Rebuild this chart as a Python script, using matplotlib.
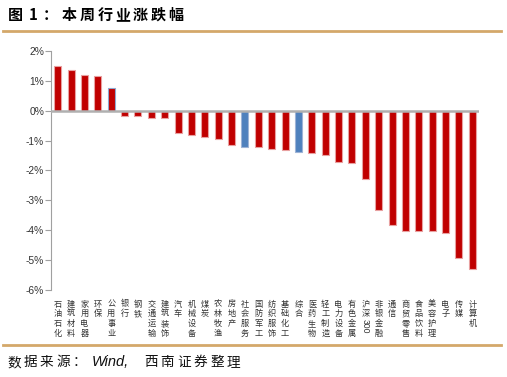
import numpy as np
import matplotlib.pyplot as plt
from matplotlib.lines import Line2D

plt.rcParams['font.family'] = ['Noto Sans CJK SC', 'DejaVu Sans']

industries = ["石油石化", "建筑材料", "家用电器", "环保", "公用事业", "银行", "钢铁",
              "交通运输", "建筑装饰", "汽车", "机械设备", "煤炭", "农林牧渔", "房地产",
              "社会服务", "国防军工", "纺织服饰", "基础化工", "综合", "医药生物",
              "轻工制造", "电力设备", "有色金属", "沪深300", "非银金融", "通信",
              "商贸零售", "食品饮料", "美容护理", "电子", "传媒", "计算机"]
change = [1.51, 1.38, 1.19, 1.16, 0.77, -0.19, -0.19, -0.23, -0.25, -0.75, -0.81,
          -0.87, -0.94, -1.15, -1.20, -1.21, -1.29, -1.32, -1.39, -1.42, -1.48,
          -1.72, -1.75, -2.29, -3.31, -3.84, -4.01, -4.01, -4.04, -4.09, -4.94, -5.31]
blue_ones = ["社会服务", "综合"]
yticks = [2, 1, 0, -1, -2, -3, -4, -5, -6]
title = "图 1：本周行业涨跌幅"
source = "数据来源：Wind, 西南证券整理"

red = "#C00000"
blue = "#4F81BD"
W, H = 507, 377

fig = plt.figure(figsize=(W/100, H/100), dpi=100)
ax = fig.add_axes([51/W, 87/H, 428/W, 239/H])

x = np.arange(len(industries))
colors = [blue if n in blue_ones else red for n in industries]
edges = ["#9DB3D6" if n in blue_ones else "#E8A0A0" for n in industries]
edges[industries.index("公用事业")] = "#8FA8D0"
ax.bar(x, change, width=0.52, color=colors, edgecolor=edges, linewidth=0.8, zorder=2)

ax.set_xlim(-0.5, len(industries) - 0.5)
ax.set_ylim(-6, 2)
ax.set_yticks(yticks)
ax.set_yticklabels([f"{v}%" for v in yticks], family=['Liberation Sans'], fontsize=7.4,
                   color="#333333")
ax.set_xticks([])
ax.axhline(0, color="#B0B0B0", lw=1.8, zorder=3)
for s in ["top", "right", "bottom"]:
    ax.spines[s].set_visible(False)
ax.spines["left"].set_color("#A0A0A0")
ax.tick_params(axis="y", length=4, width=0.8, color="#A0A0A0", pad=1)

# vertical category labels, one character per line
trans = ax.get_xaxis_transform()
pitch = 9.7 / 239  # axes fraction per character
for i, name in enumerate(industries):
    chars = [c for c in name if not c.isdigit()]
    digits = "".join(c for c in name if c.isdigit())
    for k, c in enumerate(chars):
        ax.text(i, -0.04 - k * pitch, c, transform=trans, ha="center", va="top",
                fontsize=5.9, color="#333333", clip_on=False)
    if digits:
        ax.text(i, -0.04 - len(chars) * pitch, digits, transform=trans, ha="center",
                va="top", rotation=-90, fontsize=6.2, color="#333333",
                family=['Liberation Sans'], clip_on=False)


def spaced(segments, y, size, **kw):
    # segments: (x in px, text)
    for px, s in segments:
        fig.text(px / W, 1 - y / H, s, fontsize=size, ha="left", va="center", **kw)


# title with the wide letter spacing of the original
tpos = [8, 29, 43] + [62 + 17.7 * k for k in range(7)]
tparts = ["图", "1", "："] + list(title[4:])
spaced(list(zip(tpos, tparts)), 15, 10.8, fontweight="bold")

fig.add_artist(Line2D([3/W, 501/W], [1 - 31/H] * 2, color="#D4A86A", lw=2))
fig.add_artist(Line2D([3/W, 501/W], [1 - 345/H] * 2, color="#D4A86A", lw=2))

spos = [7 + 16.5 * k for k in range(5)] + [144 + 16.6 * k for k in range(6)]
sparts = list(source[:5]) + list(source[11:])
spaced(list(zip(spos, sparts)), 362, 9.8, style="italic", color="#111111")
fig.text(92 / W, 1 - 362 / H, source[5:10], fontsize=10.5, ha="left", va="center",
         style="italic", family=['Liberation Sans'], color="#111111")

fig.savefig("out.png", dpi=100)
